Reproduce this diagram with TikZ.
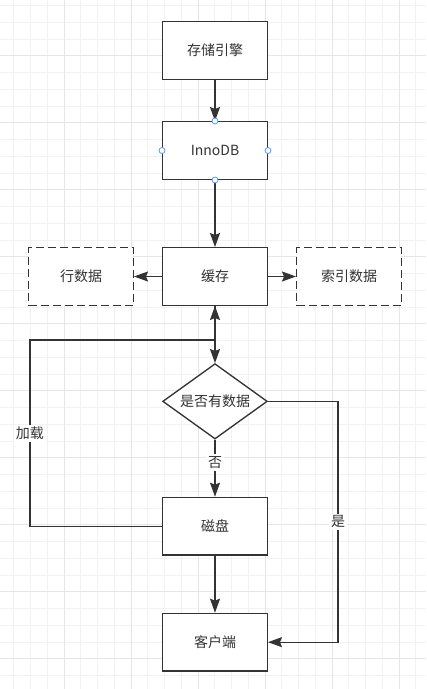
\documentclass[tikz,border=0pt]{standalone}
\usepackage{fontspec}
\setmainfont{Noto Sans CJK SC}
\usepackage{tikz}
\usetikzlibrary{shapes.geometric, arrows.meta, positioning, calc}
\definecolor{cLine}{RGB}{51,51,51}
\definecolor{cText}{RGB}{51,51,51}
\definecolor{cPort}{RGB}{77,154,255}
\definecolor{cGridMinor}{RGB}{242,242,242}
\definecolor{cGridMajor}{RGB}{230,230,230}
\tikzset{
	box/.style      ={rectangle, draw=cLine, line width=1pt, minimum width=78.5pt, minimum height=43.25pt, align=center, fill=white, text=cText},
	dbox/.style     ={box, dash pattern=on 6pt off 3pt},
	judge/.style    ={diamond, aspect=1.4, draw=cLine, line width=1pt, minimum width=78.5pt, minimum height=56.5pt, inner sep=0pt, align=center, fill=white, text=cText},
	arr/.style      ={-{Stealth[length=10.5pt, width=7.5pt, inset=1.5pt]}, draw=cLine, line width=1pt},
	lbl/.style      ={fill=white, inner sep=1.5pt, text=cText},
	port/.style     ={circle, draw=cPort, fill=white, line width=0.6pt, minimum size=4.5pt, inner sep=0pt},
	% background grid
	gminor/.style   ={draw=cGridMinor, line width=0.75pt},
	gmajor/.style   ={draw=cGridMajor, line width=0.75pt},
}
\begin{document}
\begin{tikzpicture}[x=0.75pt, y=-0.75pt, every node/.style={font=\fontsize{10.5}{12}\selectfont}]
	\useasboundingbox (0,0) rectangle (426,689);
	\fill[white] (0,0) rectangle (426,689);
	\foreach \i in {0,...,26} \draw[gminor] ({-3+16.75*\i},0) -- ({-3+16.75*\i},689);
	\foreach \j in {0,...,42} \draw[gminor] (0,{-11.25+16.75*\j}) -- (426,{-11.25+16.75*\j});
	\foreach \i in {0,4,...,24} \draw[gmajor] ({-3+16.75*\i},0) -- ({-3+16.75*\i},689);
	\foreach \j in {0,4,...,40} \draw[gmajor] (0,{-11.25+16.75*\j}) -- (426,{-11.25+16.75*\j});

	\node[box] (engine) at (215,50.5) {存储引擎};
	\node[box, below=30.75pt of engine] (inno) {InnoDB};
	\node[box, below=50.25pt of inno] (cache) {缓存};
	\node[dbox, left=21pt of cache] (rows) {行数据};
	\node[dbox, right=21pt of cache] (index) {索引数据};
	\node[judge, below=42.75pt of cache] (judge) {是否有数据};
	\node[box, below=42.75pt of judge] (disk) {磁盘};
	\node[box, below=42.75pt of disk] (client) {客户端};
	\coordinate (back) at (30,340);
	\coordinate (rt) at (338,403);

	\draw[arr] (engine) -- (inno);
	\draw[arr] (inno) -- (cache);
	\draw[arr] (cache) -- (rows);
	\draw[arr] (cache) -- (index);
	\draw[arr] (cache) -- (judge);
	\draw[arr] (judge) -- node[lbl, pos=0.4] {否} (disk);
	\draw[arr] (disk) -- (client);
	\draw[arr] (disk.west) -| node[lbl, pos=0.75] {加载} (back) -- (cache.south |- back) -- (cache.south);
	\draw[arr] (judge.east) -| node[lbl, pos=0.75] {是} (rt |- client.east) -- (client.east);
	\foreach \s in {north,south,east,west} \node[port] (inno-\s) at (inno.\s) {};
\end{tikzpicture}
\end{document}
